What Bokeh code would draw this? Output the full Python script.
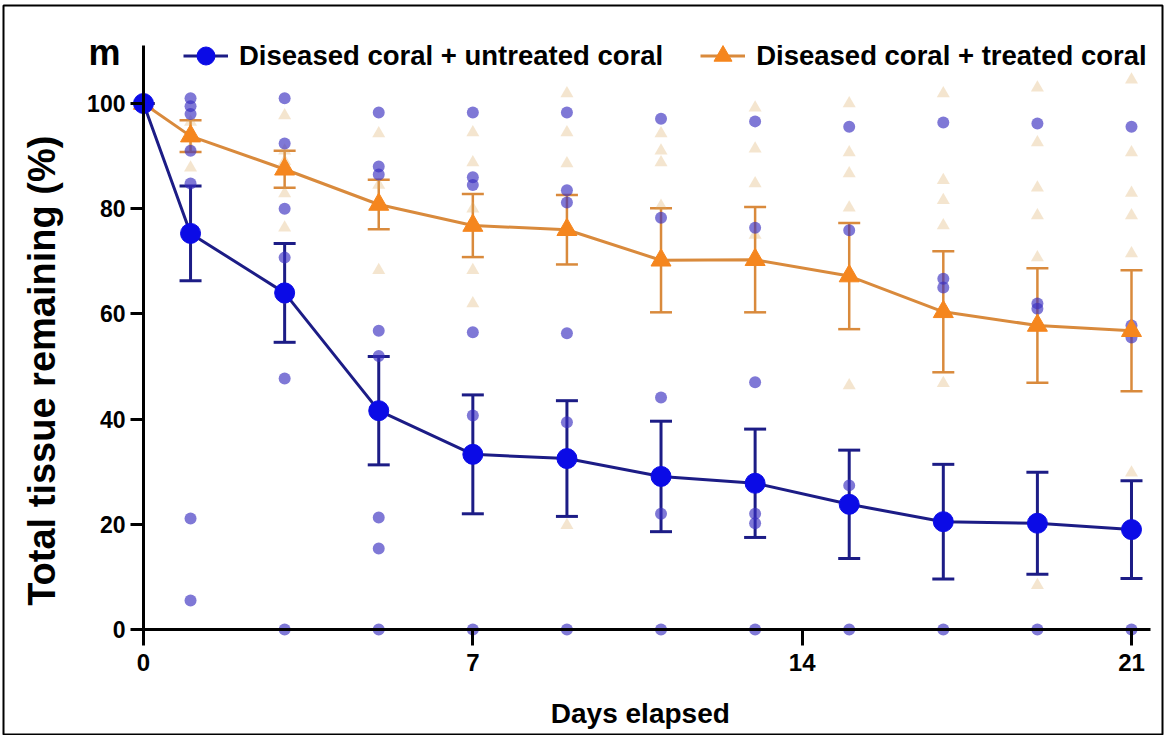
import math
from bokeh.plotting import figure
from bokeh.models import (ColumnDataSource, Whisker, TeeHead, Legend, LegendItem,
                          Label, FixedTicker, LinearAxis, Range1d)
from bokeh.embed import file_html
from bokeh.resources import INLINE

# ---------------- data ----------------
days = [0, 1, 3, 5, 7, 9, 11, 13, 15, 17, 19, 21]

untreated_mean = [100, 75.3, 64.0, 41.6, 33.3, 32.5, 29.1, 27.8, 23.8, 20.5, 20.2, 19.0]
untreated_sem = [0, 9.0, 9.4, 10.3, 11.3, 11.0, 10.5, 10.3, 10.3, 10.9, 9.7, 9.3]

treated_mean = [100, 93.8, 87.5, 80.8, 76.8, 76.0, 70.2, 70.3, 67.2, 60.4, 57.8, 56.8]
treated_sem = [0, 3.0, 3.5, 4.7, 6.0, 6.6, 9.9, 10.0, 10.1, 11.5, 10.9, 11.5]

# individual corals, one list per day (same order as `days`)
untreated_points = [
    [100],
    [101, 99.5, 98, 91, 84.8, 21.1, 5.5],
    [101, 92.4, 80, 70.7, 63, 47.7, 0],
    [98.3, 88, 86.5, 56.8, 52, 21.3, 15.4, 0],
    [98.3, 86, 84.5, 56.5, 40.7, 0],
    [98.3, 83.5, 81.2, 56.3, 39.4, 0],
    [97.1, 78.3, 44.1, 22, 0],
    [96.6, 76.4, 47, 22, 20.2, 0],
    [95.6, 75.9, 27.4, 23.8, 0],
    [96.4, 66.7, 65, 0],
    [96.2, 62, 61, 0],
    [95.6, 57.8, 55.5, 0],
]
treated_points = [
    [100],
    [96.5, 94, 91.5, 87.8],
    [97.7, 91, 89, 82.9, 76.4],
    [94.3, 84.5, 80.5, 68.3],
    [94.5, 88.8, 80, 68.3, 62],
    [101.9, 94.5, 88.6, 19.8],
    [94.3, 91, 88.8, 80.5],
    [99.2, 91.4, 84.8, 75],
    [100, 90.7, 86.7, 80.2, 46.4],
    [101.9, 85.4, 81.6, 76.8, 46.8],
    [103, 92.6, 84, 78.7, 70.7, 8.4],
    [104.5, 90.7, 83, 78.7, 71.5, 29.8],
]

x_ticks = [0, 7, 14, 21]
y_ticks = [0, 20, 40, 60, 80, 100]

x_title = "Days elapsed"
y_title = "Total tissue remaining (%)"
panel_letter = "m"
label_untreated = "Diseased coral + untreated coral"
label_treated = "Diseased coral + treated coral"

# ---------------- styles ----------------
FONT = "Liberation Sans"
BLUE = "#0b0be6"
NAVY = "#1c1c86"
BLUE_FAINT = "#3a2fc0"
ORANGE = "#f5861e"
ORANGE_LINE = "#d98a3c"
ORANGE_FAINT = "#d9a860"

# ---------------- sources ----------------
def flatten(pts):
    xs, ys = [], []
    for d, vals in zip(days, pts):
        xs.extend([d] * len(vals))
        ys.extend(vals)
    return dict(x=xs, y=ys)

un_src = ColumnDataSource(dict(
    x=days, y=untreated_mean,
    upper=[m + s for m, s in zip(untreated_mean, untreated_sem)],
    lower=[m - s for m, s in zip(untreated_mean, untreated_sem)]))
tr_src = ColumnDataSource(dict(
    x=days, y=treated_mean,
    upper=[m + s for m, s in zip(treated_mean, treated_sem)],
    lower=[m - s for m, s in zip(treated_mean, treated_sem)]))
un_pts = ColumnDataSource(flatten(untreated_points))
tr_pts = ColumnDataSource(flatten(treated_points))

# frame spans nearly the whole canvas; its outline is the picture's border
p = figure(width=1165, height=735,
           x_range=Range1d(-2.9757, 21.659), y_range=Range1d(-20.15, 118.63),
           x_axis_type=None, y_axis_type=None,
           output_backend="svg", toolbar_location=None,
           min_border_left=3, min_border_right=3,
           min_border_top=5, min_border_bottom=0)
p.grid.visible = False
p.outline_line_color = "black"
p.outline_line_width = 2
p.background_fill_color = "white"
p.border_fill_color = "white"

# axes crossing at the origin
xaxis = LinearAxis(fixed_location=0, ticker=FixedTicker(ticks=x_ticks), bounds=(0, 21.4))
yaxis = LinearAxis(fixed_location=0, ticker=FixedTicker(ticks=y_ticks), bounds=(0, 111))
for ax in (xaxis, yaxis):
    ax.axis_line_width = 3
    ax.axis_line_color = "black"
    ax.major_tick_line_width = 3
    ax.major_tick_line_color = "black"
    ax.major_tick_in = 0
    ax.minor_tick_line_color = None
    ax.major_label_text_font = FONT
    ax.major_label_text_font_style = "bold"
    ax.major_label_text_color = "black"
xaxis.major_tick_out = 16
xaxis.major_label_standoff = 8
xaxis.major_label_text_font_size = "24px"
yaxis.major_tick_out = 13
yaxis.major_label_standoff = 5
yaxis.major_label_text_font_size = "23px"
p.add_layout(xaxis, "below")
p.add_layout(yaxis, "left")

# faint individual points
p.scatter("x", "y", source=tr_pts, marker="triangle", size=13,
          fill_color=ORANGE_FAINT, line_color=None, fill_alpha=0.3)
p.scatter("x", "y", source=un_pts, marker="circle", size=12,
          fill_color=BLUE_FAINT, line_color=None, fill_alpha=0.65)

# treated series
tr_line = p.line("x", "y", source=tr_src, line_color=ORANGE_LINE, line_width=3)
p.add_layout(Whisker(source=tr_src, base="x", upper="upper", lower="lower",
                     line_color=ORANGE_LINE, line_width=2.5,
                     upper_head=TeeHead(size=22, line_color=ORANGE_LINE, line_width=2.5),
                     lower_head=TeeHead(size=22, line_color=ORANGE_LINE, line_width=2.5)))
tr_mark = p.scatter("x", "y", source=tr_src, marker="triangle", size=20,
                    fill_color=ORANGE, line_color=ORANGE)

# untreated series
un_line = p.line("x", "y", source=un_src, line_color=NAVY, line_width=3)
p.add_layout(Whisker(source=un_src, base="x", upper="upper", lower="lower",
                     line_color=NAVY, line_width=3,
                     upper_head=TeeHead(size=22, line_color=NAVY, line_width=3),
                     lower_head=TeeHead(size=22, line_color=NAVY, line_width=3)))
un_mark = p.scatter("x", "y", source=un_src, marker="circle", size=20,
                    fill_color=BLUE, line_color=BLUE)

legend = Legend(items=[LegendItem(label=label_untreated, renderers=[un_line, un_mark]),
                       LegendItem(label=label_treated, renderers=[tr_line, tr_mark])],
                location=(180, 657), orientation="horizontal",
                glyph_width=45, glyph_height=45, label_standoff=11, spacing=37,
                padding=0, margin=0, border_line_color=None, background_fill_alpha=0,
                label_text_font=FONT, label_text_font_size="27.5px",
                label_text_font_style="bold", label_text_color="black")
p.add_layout(legend)

# titles and panel letter
p.add_layout(Label(x=-2.147, y=49.2, text=y_title, angle=math.pi / 2, angle_units="rad",
                   text_align="center", text_baseline="middle", text_font=FONT,
                   text_font_size="38px", text_font_style="bold", text_color="black"))
p.add_layout(Label(x=10.56, y=-15.97, text=x_title, text_align="center",
                   text_baseline="middle", text_font=FONT, text_font_size="28px",
                   text_font_style="bold", text_color="black"))
p.add_layout(Label(x=-1.169, y=109.7, text=panel_letter, text_align="left",
                   text_baseline="alphabetic", text_font=FONT,
                   text_font_size="36px", text_font_style="bold", text_color="black"))

open("out.html", "w").write(file_html(p, INLINE))
